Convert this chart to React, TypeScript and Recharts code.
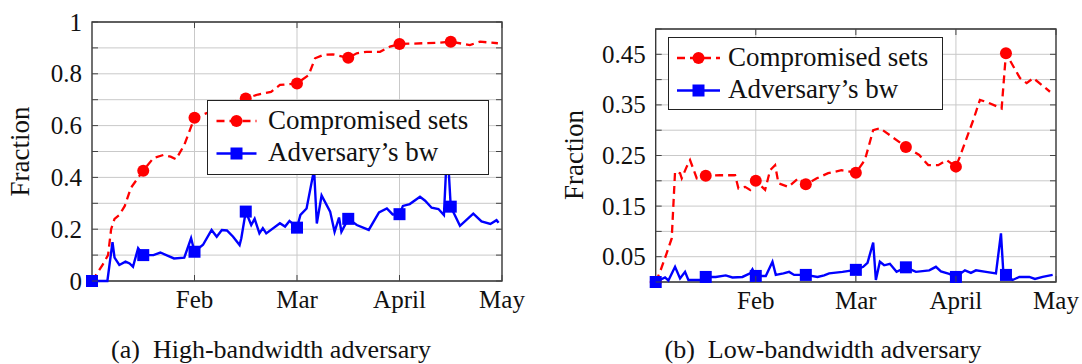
import { LineChart, Line, XAxis, YAxis, CartesianGrid, ReferenceArea } from 'recharts'

const FONT = 'Liberation Serif'

// x axis: days since Jan 1 (each month drawn as 30 days, like the original)
const monthDays = [30, 60, 90, 120]
const monthLabels = ['Feb', 'Mar', 'April', 'May']
const MARKER_EVERY = 15

const seriesNames = ['Compromised sets', 'Adversary\u2019s bw']
const captions = ['(a)\u2002High-bandwidth adversary', '(b)\u2002Low-bandwidth adversary']

const highYTicks = [0, 0.1, 0.2, 0.3, 0.4, 0.5, 0.6, 0.7, 0.8, 0.9, 1]
const highYLabels = [0, 0.2, 0.4, 0.6, 0.8, 1]
const lowYTicks = [0, 0.05, 0.1, 0.15, 0.2, 0.25, 0.3, 0.35, 0.4, 0.45, 0.5]
const lowYLabels = [0.05, 0.15, 0.25, 0.35, 0.45]

// (a) high-bandwidth adversary
const highSetsDays = [0, 3, 4.7, 5.6, 6.6, 8, 9.6, 11.4, 15, 18, 21, 23, 24.6, 27, 30, 33, 36, 39, 42, 45, 48.6, 52.4, 55, 60, 63.4, 65.3, 67.7, 70.5, 75, 77.5, 80.4, 84.3, 87.2, 90, 97, 101.4, 105, 110.6, 113.6, 118.8]
const highSetsValues = [0, 0.06, 0.1, 0.2, 0.24, 0.255, 0.29, 0.36, 0.426, 0.475, 0.487, 0.48, 0.47, 0.525, 0.63, 0.645, 0.66, 0.68, 0.695, 0.705, 0.72, 0.73, 0.757, 0.763, 0.795, 0.86, 0.873, 0.875, 0.862, 0.879, 0.885, 0.885, 0.905, 0.915, 0.918, 0.92, 0.924, 0.911, 0.924, 0.918]

const highBwDays = [0, 4.5, 6, 6.6, 8, 9.8, 11, 12, 13.5, 15, 18, 20, 24, 27, 29, 30, 32.5, 35, 36.5, 38, 39.5, 41.3, 43.2, 43.7, 45, 46.6, 47.6, 49, 50, 51, 55, 56.5, 57.8, 60, 61, 62.8, 65, 65.8, 67.2, 69.7, 71, 72.3, 73, 75, 77.5, 81, 84, 86.3, 88, 90, 91, 93, 96, 97.5, 99.4, 101.4, 103, 103.7, 104.3, 105, 107.7, 111.6, 114, 116.6, 118.4, 119]
const highBwValues = [0, 0, 0.15, 0.09, 0.062, 0.075, 0.068, 0.055, 0.127, 0.1, 0.1, 0.11, 0.087, 0.09, 0.165, 0.113, 0.14, 0.197, 0.171, 0.197, 0.195, 0.171, 0.139, 0.165, 0.268, 0.216, 0.24, 0.184, 0.204, 0.184, 0.223, 0.21, 0.232, 0.206, 0.255, 0.28, 0.43, 0.222, 0.33, 0.268, 0.19, 0.245, 0.19, 0.24, 0.216, 0.197, 0.265, 0.28, 0.257, 0.258, 0.29, 0.297, 0.325, 0.31, 0.283, 0.278, 0.255, 0.45, 0.45, 0.287, 0.213, 0.26, 0.23, 0.22, 0.235, 0.225]

// (b) low-bandwidth adversary
const lowSetsDays = [0, 1.3, 3.3, 4.8, 5.8, 7.3, 7.8, 9.3, 10.3, 12.3, 15, 19.3, 23.8, 24.8, 26.8, 28.3, 30, 32.8, 34.3, 35.8, 36.8, 39.8, 42.8, 45, 48.3, 51.7, 55.7, 60, 62.7, 65.2, 67.2, 70.2, 75, 79, 81.7, 84.7, 87.2, 90, 91.2, 95.2, 97.2, 99.5, 103.7, 105, 109.2, 111.2, 113.2, 118.2]
const lowSetsValues = [0, 0.02, 0.057, 0.086, 0.218, 0.215, 0.205, 0.228, 0.241, 0.205, 0.21, 0.211, 0.211, 0.185, 0.188, 0.182, 0.2, 0.182, 0.221, 0.231, 0.195, 0.188, 0.205, 0.193, 0.205, 0.215, 0.221, 0.216, 0.241, 0.3, 0.304, 0.29, 0.267, 0.251, 0.231, 0.231, 0.241, 0.228, 0.248, 0.32, 0.36, 0.355, 0.343, 0.452, 0.403, 0.393, 0.403, 0.376]

const lowBwDays = [0, 2.8, 3.8, 5.8, 7.3, 8.8, 9.8, 13.3, 15, 18, 21, 23, 26, 28.3, 29, 30, 33, 35, 36, 38.3, 40, 41.5, 45, 48.5, 50.5, 52, 56, 60, 62.2, 63.5, 65.2, 66, 67.2, 68.5, 70.2, 72.2, 75, 78, 82, 84, 85.5, 88, 90, 92.7, 94.5, 96, 99, 102, 103.5, 104.2, 105, 107, 109, 112, 113.7, 116, 119]
const lowBwValues = [0, 0.009, 0.003, 0.03, 0.007, 0.02, 0.004, 0.004, 0.01, 0.01, 0.013, 0.009, 0.01, 0.017, 0.025, 0.012, 0.012, 0.04, 0.014, 0.017, 0.02, 0.014, 0.014, 0.01, 0.013, 0.017, 0.02, 0.024, 0.03, 0.038, 0.078, 0.004, 0.04, 0.033, 0.036, 0.02, 0.029, 0.02, 0.023, 0.03, 0.021, 0.016, 0.01, 0.023, 0.018, 0.023, 0.02, 0.017, 0.096, 0.02, 0.014, 0.004, 0.01, 0.01, 0.006, 0.01, 0.014]

const toPoints = (days: number[], values: number[]) => days.map((day, i) => ({ day, v: values[i] }))

const RED = '#ff0000'
const BLUE = '#0000ff'

const circleDot = (p: any) => {
  const { cx, cy, payload, index } = p
  if (payload.day % MARKER_EVERY !== 0) return <g key={`c${index}`} />
  return <circle key={`c${index}`} cx={cx} cy={cy} r={6} fill={RED} />
}

const squareDot = (p: any) => {
  const { cx, cy, payload, index } = p
  if (payload.day % MARKER_EVERY !== 0) return <g key={`s${index}`} />
  return <rect key={`s${index}`} x={cx - 6} y={cy - 6} width={12} height={12} fill={BLUE} />
}

interface Box { left: number; right: number; top: number; bottom: number }

function LegendBox({ left, top, width, height, x1, x2, textX }: any) {
  const mid = (x1 + x2) / 2
  return (
    <svg style={{ position: 'absolute', left, top }} width={width} height={height}>
      <rect x={0.5} y={0.5} width={width - 1} height={height - 1} fill="#fff" stroke="#222" strokeWidth={1} />
      <line x1={x1} x2={x2} y1={21} y2={21} stroke={RED} strokeWidth={2.3} strokeDasharray="8 5" />
      <circle cx={mid} cy={21} r={6} fill={RED} />
      <text x={textX} y={29} fontSize={27} fontFamily={FONT} fill="#111">{seriesNames[0]}</text>
      <line x1={x1} x2={x2} y1={53.5} y2={53.5} stroke={BLUE} strokeWidth={2.4} />
      <rect x={mid - 6} y={47.5} width={12} height={12} fill={BLUE} />
      <text x={textX} y={61} fontSize={27} fontFamily={FONT} fill="#111">{seriesNames[1]}</text>
    </svg>
  )
}

function Panel({ width, height, box, sets, bw, yTicks, yLabels, yMax, legend, titleX, titleY }: any) {
  const b: Box = box
  const yAxisWidth = 60
  const margin = { top: b.top, right: width - b.right, bottom: height - b.bottom - 30, left: b.left - yAxisWidth }

  const xTick = (p: any) => {
    const { x, payload } = p
    return (
      <g key={`x${payload.value}`}>
        <line x1={x} x2={x} y1={b.bottom} y2={b.bottom - 6} stroke="#444" />
        <line x1={x} x2={x} y1={b.top} y2={b.top + 6} stroke="#444" />
        <text x={x} y={b.bottom + 27} textAnchor="middle" fontSize={25} fontFamily={FONT} fill="#111">
          {monthLabels[monthDays.indexOf(payload.value)]}
        </text>
      </g>
    )
  }

  const yTick = (p: any) => {
    const { y, payload } = p
    const show = yLabels.some((l: number) => Math.abs(l - payload.value) < 1e-9)
    return (
      <g key={`y${payload.value}`}>
        <line x1={b.left} x2={b.left + 6} y1={y} y2={y} stroke="#444" />
        <line x1={b.right - 6} x2={b.right} y1={y} y2={y} stroke="#444" />
        {show && (
          <text x={b.left - 10} y={y} textAnchor="end" dominantBaseline="central" fontSize={25} fontFamily={FONT} fill="#111">
            {String(payload.value)}
          </text>
        )}
      </g>
    )
  }

  const yTitle = () => (
    <text
      x={titleX}
      y={titleY}
      transform={`rotate(-90 ${titleX} ${titleY})`}
      textAnchor="middle"
      fontSize={27}
      fontFamily={FONT}
      fill="#111"
    >
      Fraction
    </text>
  )

  return (
    <div style={{ position: 'relative', width, height }}>
      <LineChart width={width} height={height} margin={margin}>
        <CartesianGrid stroke="#c9c9c9" strokeWidth={1} />
        <XAxis
          type="number"
          dataKey="day"
          domain={[0, 120]}
          ticks={monthDays}
          interval={0}
          height={30}
          axisLine={false}
          tickLine={false}
          tick={xTick}
        />
        <YAxis
          type="number"
          domain={[0, yMax]}
          ticks={yTicks}
          interval={0}
          width={yAxisWidth}
          axisLine={false}
          tickLine={false}
          tick={yTick}
          label={yTitle}
        />
        <ReferenceArea x1={0} x2={120} y1={0} y2={yMax} fill="none" stroke="#333" strokeWidth={1.3} />
        <Line
          data={sets}
          dataKey="v"
          type="linear"
          stroke={RED}
          strokeWidth={2.3}
          strokeDasharray="8 5"
          dot={circleDot}
          activeDot={false}
          isAnimationActive={false}
        />
        <Line
          data={bw}
          dataKey="v"
          type="linear"
          stroke={BLUE}
          strokeWidth={2.4}
          dot={squareDot}
          activeDot={false}
          isAnimationActive={false}
        />
      </LineChart>
      <LegendBox {...legend} />
    </div>
  )
}

export default function App() {
  return (
    <div style={{ position: 'absolute', left: 0, top: 0, width: 1082, height: 364, background: '#fff', fontFamily: FONT }}>
      <div style={{ position: 'absolute', left: 0, top: 0 }}>
        <Panel
          width={541}
          height={364}
          box={{ left: 92, right: 502, top: 22, bottom: 281 }}
          sets={toPoints(highSetsDays, highSetsValues)}
          bw={toPoints(highBwDays, highBwValues)}
          yTicks={highYTicks}
          yLabels={highYLabels}
          yMax={1}
          titleX={29}
          titleY={151.5}
          legend={{ left: 207, top: 100, width: 282, height: 75, x1: 9.5, x2: 49.5, textX: 61 }}
        />
      </div>
      <div style={{ position: 'absolute', left: 541, top: 0 }}>
        <Panel
          width={541}
          height={364}
          box={{ left: 114.7, right: 515, top: 29, bottom: 282 }}
          sets={toPoints(lowSetsDays, lowSetsValues)}
          bw={toPoints(lowBwDays, lowBwValues)}
          yTicks={lowYTicks}
          yLabels={lowYLabels}
          yMax={0.5}
          titleX={42}
          titleY={155}
          legend={{ left: 127, top: 37, width: 275, height: 73, x1: 9, x2: 52, textX: 60 }}
        />
      </div>
      <svg style={{ position: 'absolute', left: 0, top: 0 }} width={1082} height={364}>
        <text x={271} y={358} textAnchor="middle" fontSize={26} fontFamily={FONT} fill="#111">{captions[0]}</text>
        <text x={823} y={358} textAnchor="middle" fontSize={26} fontFamily={FONT} fill="#111">{captions[1]}</text>
      </svg>
    </div>
  )
}
